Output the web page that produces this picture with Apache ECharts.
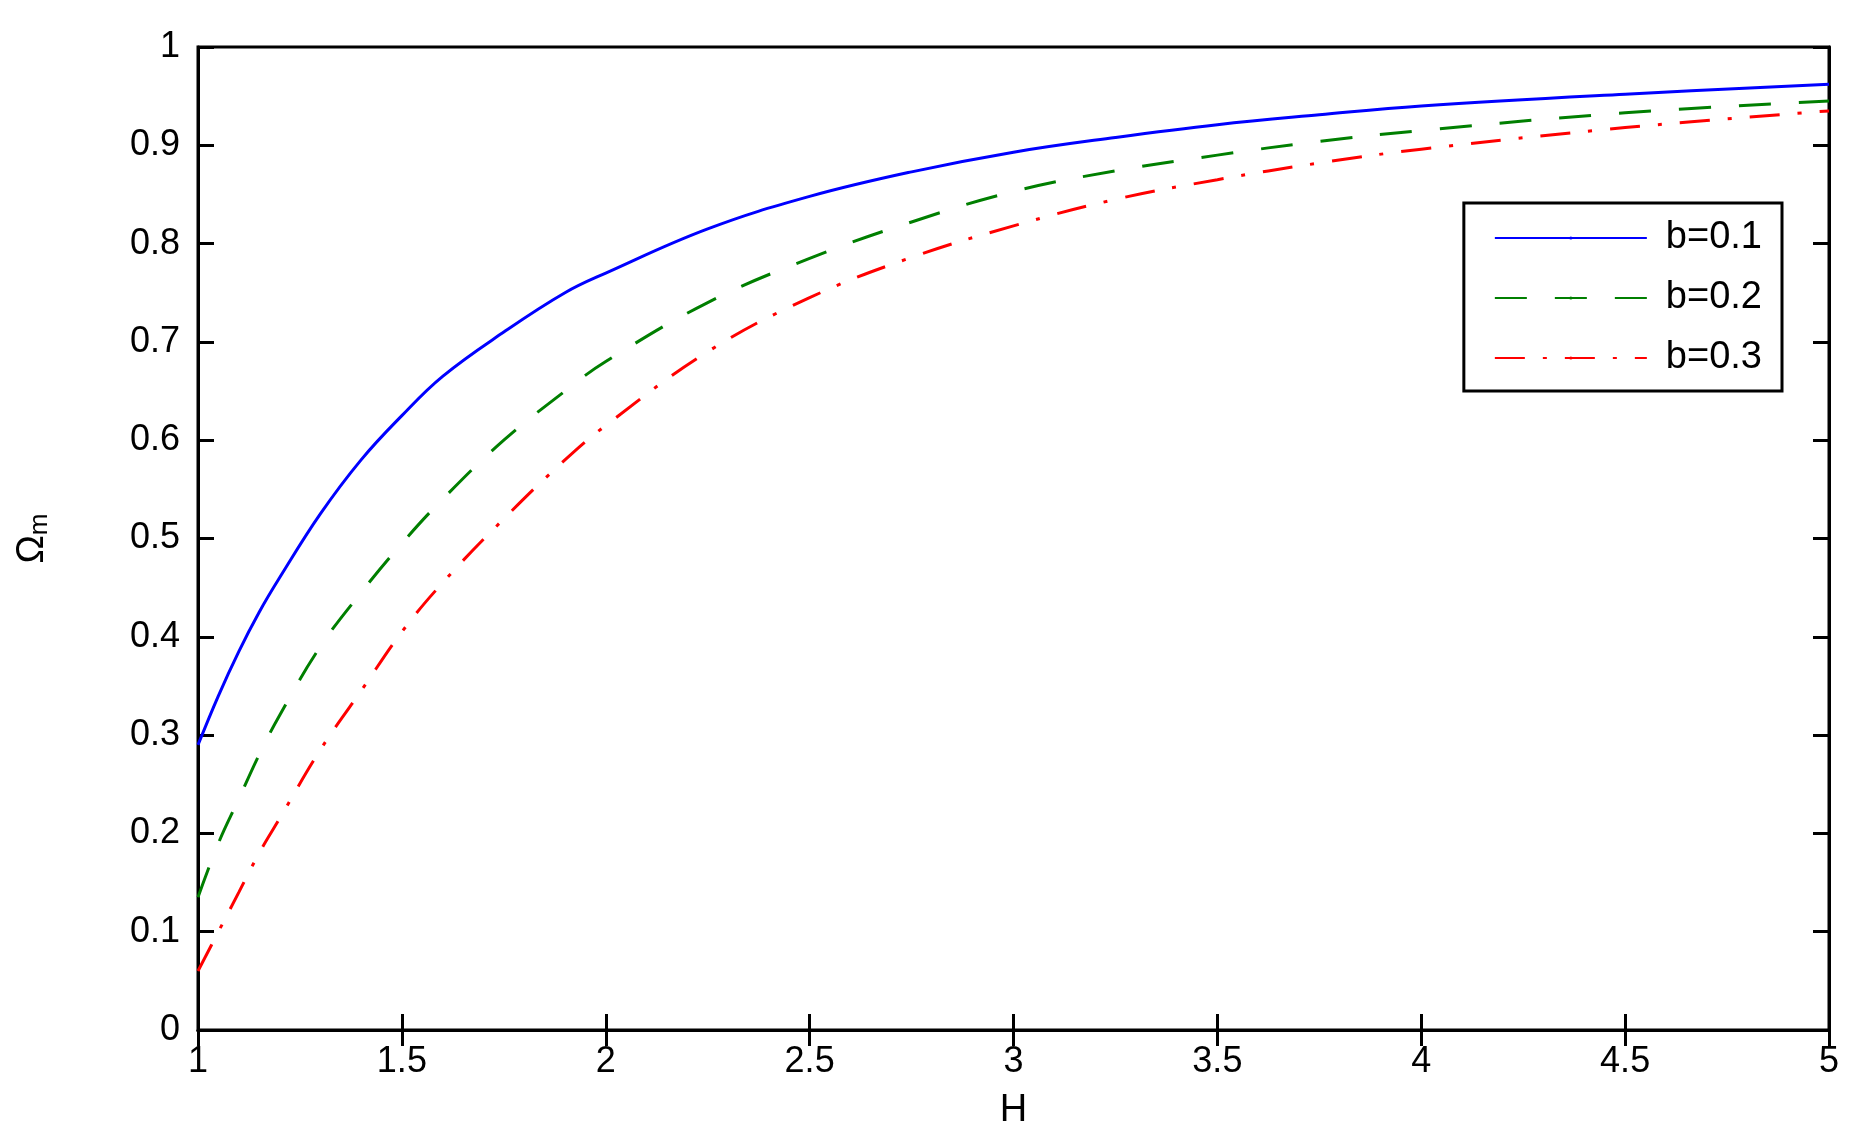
<!DOCTYPE html>
<html>
<head>
<meta charset="UTF-8">
<script src="https://cdn.jsdelivr.net/npm/echarts@6/dist/echarts.min.js"></script>
</head>
<body style="margin:0;background:#fff">
<div id="main" style="width:1872px;height:1138px;"></div>
<script>
var hValues = [1, 1.05, 1.1, 1.15, 1.2, 1.3, 1.4, 1.5, 1.6, 1.75, 1.9, 2, 2.25, 2.5, 2.75, 3, 3.25, 3.5, 3.75, 4, 4.5, 5];
var b01 = [0.29, 0.34, 0.385, 0.425, 0.46, 0.525, 0.58, 0.625, 0.665, 0.71, 0.75, 0.77, 0.815, 0.848, 0.873, 0.893, 0.908, 0.921, 0.931, 0.94, 0.952, 0.962];
var b02 = [0.135, 0.19, 0.235, 0.28, 0.32, 0.39, 0.445, 0.495, 0.54, 0.6, 0.65, 0.68, 0.74, 0.785, 0.822, 0.853, 0.874, 0.89, 0.904, 0.915, 0.933, 0.945];
var b03 = [0.06, 0.1, 0.14, 0.18, 0.215, 0.285, 0.345, 0.405, 0.455, 0.52, 0.58, 0.615, 0.69, 0.745, 0.786, 0.818, 0.845, 0.865, 0.882, 0.896, 0.918, 0.935];

function pairs(ys) { return hValues.map(function (h, i) { return [h, ys[i]]; }); }

var font = 'Liberation Sans';
var tick = { inside: true, length: 16, lineStyle: { color: '#000', width: 3 } };
var line = { lineStyle: { color: '#000', width: 3 } };
var myChart = echarts.init(document.getElementById('main'));
var option = {
  animation: false,
  grid: { left: 198, right: 43, top: 47, bottom: 108, show: true, borderColor: '#000', borderWidth: 3, backgroundColor: '#fff' },
  legend: {
    right: 90, top: 203, orient: 'vertical', itemWidth: 152, itemHeight: 4, itemGap: 22,
    padding: [16, 20, 14, 30], borderColor: '#000', borderWidth: 3, backgroundColor: '#fff',
    textStyle: { fontFamily: font, fontSize: 38, color: '#000', padding: [0, 0, 0, 14] },
    data: ['b=0.1', 'b=0.2', 'b=0.3']
  },
  xAxis: [{
    type: 'value', min: 1, max: 5, interval: 0.5, name: 'H', nameLocation: 'middle', nameGap: 62,
    nameTextStyle: { fontFamily: font, fontSize: 38, color: '#000' },
    axisLine: line, axisTick: tick,
    axisLabel: { fontFamily: font, fontSize: 36, color: '#000', margin: 14 },
    splitLine: { show: false }
  }, {
    type: 'value', min: 1, max: 5, interval: 0.5, position: 'top',
    axisLine: line, axisTick: tick, axisLabel: { show: false }, splitLine: { show: false }
  }],
  yAxis: [{
    type: 'value', min: 0, max: 1, interval: 0.1, nameLocation: 'middle', nameGap: 145, nameRotate: 90,
    name: 'Ω{s|m}',
    nameTextStyle: { fontFamily: font, fontSize: 38, color: '#000', rich: { s: { fontFamily: font, fontSize: 26, verticalAlign: 'bottom', padding: [14, 0, 0, 0] } } },
    axisLine: line, axisTick: tick,
    axisLabel: { fontFamily: font, fontSize: 36, color: '#000', margin: 18 },
    splitLine: { show: false }
  }, {
    type: 'value', min: 0, max: 1, interval: 0.1, position: 'right',
    axisLine: line, axisTick: tick, axisLabel: { show: false }, splitLine: { show: false }
  }],
  series: [
    { name: 'b=0.1', type: 'line', smooth: 0.4, symbol: 'none', data: pairs(b01), itemStyle: { color: '#0000ff' }, lineStyle: { color: '#0000ff', width: 3 } },
    { name: 'b=0.2', type: 'line', smooth: 0.4, symbol: 'none', data: pairs(b02), itemStyle: { color: '#007f00' }, lineStyle: { color: '#007f00', width: 3, type: [32, 28] } },
    { name: 'b=0.3', type: 'line', smooth: 0.4, symbol: 'none', data: pairs(b03), itemStyle: { color: '#ff0000' }, lineStyle: { color: '#ff0000', width: 3, type: [30, 18, 4, 18] } }
  ]
};
myChart.setOption(option);
</script>
</body>
</html>
